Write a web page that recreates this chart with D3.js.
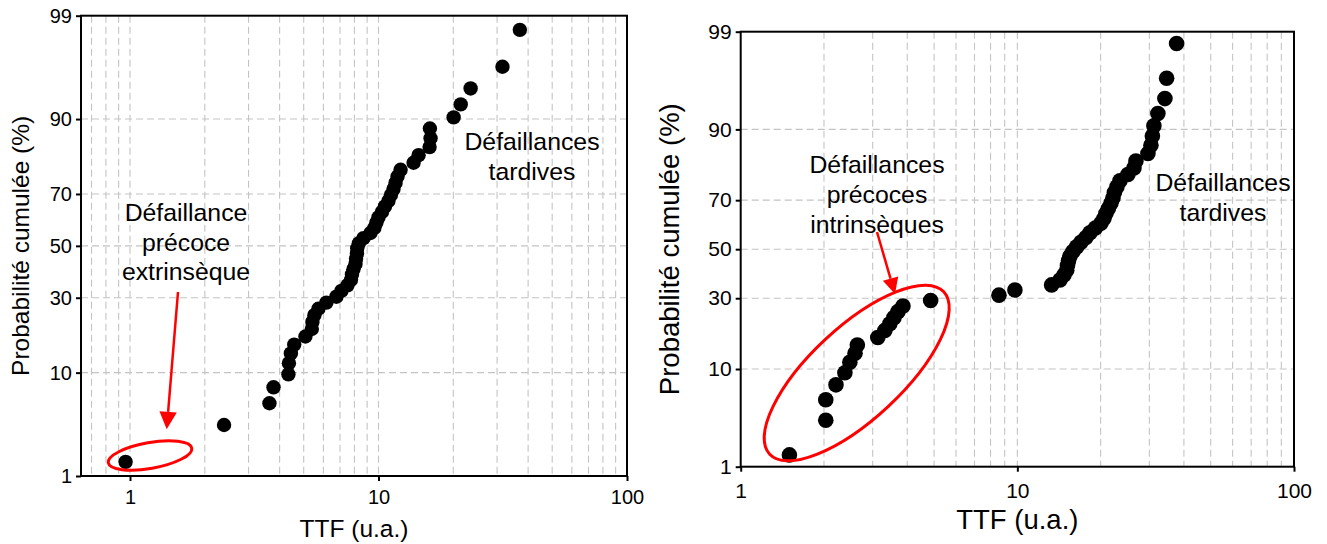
<!DOCTYPE html>
<html><head><meta charset="utf-8">
<script src="https://cdn.jsdelivr.net/npm/d3@7"></script>
<style>body{margin:0;background:#fff}svg{display:block}</style>
</head><body><svg id="c" width="1327" height="544"></svg>
<script>
// ---------- data ----------
const probTicks = [1, 10, 30, 50, 70, 90, 99];
const probTickLabels = ["1", "10", "30", "50", "70", "90", "99"];
const ttfTicks = [1, 10, 100];
const ttfTickLabels = ["1", "10", "100"];
const xTitle = "TTF (u.a.)";
const yTitle = "Probabilité cumulée (%)";

// left panel: TTF (u.a.) and cumulative probability (%)
const leftTTF = [0.96, 2.39, 3.64, 3.78, 4.34, 4.36, 4.44, 4.58, 5.08, 5.39,
  5.42, 5.52, 5.73, 6.17, 6.77, 7.09, 7.50, 7.75, 7.82, 7.93,
  8.08, 8.12, 8.19, 8.21, 8.34, 8.70, 9.28, 9.63, 9.81, 10.0,
  10.33, 10.62, 10.97, 11.22, 11.49, 11.71, 11.93, 12.27, 13.84, 14.50,
  16.05, 16.20, 16.10, 20.06, 21.42, 23.48, 31.54, 37.05];
const leftProb = [1.45, 3.51, 5.58, 7.64, 9.71, 11.78, 13.84, 15.91, 17.98, 20.04,
  22.11, 24.17, 26.24, 28.31, 30.37, 32.44, 34.50, 36.57, 38.64, 40.70,
  42.77, 44.83, 46.90, 48.97, 51.03, 53.10, 55.17, 57.23, 59.30, 61.36,
  63.43, 65.50, 67.56, 69.63, 71.69, 73.76, 75.83, 77.89, 79.96, 82.02,
  84.09, 86.16, 88.22, 90.29, 92.36, 94.42, 96.49, 98.55];

// right panel
const rightTTF = [1.50, 2.03, 2.03, 2.21, 2.38, 2.48, 2.59, 2.64, 3.13, 3.32,
  3.46, 3.58, 3.70, 3.86, 4.86, 8.58, 9.80, 13.30, 14.26, 14.74,
  15.08, 15.18, 15.31, 15.49, 15.88, 16.38, 16.98, 17.70, 18.30, 19.15,
  20.05, 20.56, 20.90, 21.34, 21.79, 22.16, 22.43, 22.91, 23.49, 25.10,
  26.39, 26.83, 29.65, 30.40, 30.77, 31.16, 32.21, 34.15, 34.64, 37.64];
const rightProb = [1.39, 3.37, 5.36, 7.34, 9.33, 11.31, 13.29, 15.28, 17.26, 19.25,
  21.23, 23.21, 25.20, 27.18, 29.17, 31.15, 33.13, 35.12, 37.10, 39.09,
  41.07, 43.06, 45.04, 47.02, 49.01, 50.99, 52.98, 54.96, 56.94, 58.93,
  60.91, 62.90, 64.88, 66.87, 68.85, 70.83, 72.82, 74.80, 76.79, 78.77,
  80.75, 82.74, 84.72, 86.71, 88.69, 90.67, 92.66, 94.64, 96.63, 98.61];

// ---------- normal probability transform ----------
function probit(p) {
  const a = [-3.969683028665376e+01, 2.209460984245205e+02, -2.759285104469687e+02, 1.383577518672690e+02, -3.066479806614716e+01, 2.506628277459239e+00];
  const b = [-5.447609879822406e+01, 1.615858368580409e+02, -1.556989798598866e+02, 6.680131188771972e+01, -1.328068155288572e+01];
  const c = [-7.784894002430293e-03, -3.223964580411365e-01, -2.400758277161838e+00, -2.549732539343734e+00, 4.374664141464968e+00, 2.938163982698783e+00];
  const d = [7.784695709041462e-03, 3.224671290700398e-01, 2.445134137142996e+00, 3.754408661907416e+00];
  const pl = 0.02425, ph = 1 - pl;
  let q, r;
  if (p < pl) {
    q = Math.sqrt(-2 * Math.log(p));
    return (((((c[0]*q+c[1])*q+c[2])*q+c[3])*q+c[4])*q+c[5]) / ((((d[0]*q+d[1])*q+d[2])*q+d[3])*q+1);
  } else if (p <= ph) {
    q = p - 0.5; r = q*q;
    return (((((a[0]*r+a[1])*r+a[2])*r+a[3])*r+a[4])*r+a[5])*q / (((((b[0]*r+b[1])*r+b[2])*r+b[3])*r+b[4])*r+1);
  } else {
    q = Math.sqrt(-2 * Math.log(1 - p));
    return -(((((c[0]*q+c[1])*q+c[2])*q+c[3])*q+c[4])*q+c[5]) / ((((d[0]*q+d[1])*q+d[2])*q+d[3])*q+1);
  }
}
const pz = v => probit(v / 100);

const FONT = "'Liberation Sans', Arial, Helvetica, sans-serif";
const svg = d3.select("#c");

const panels = [
  { ttf: leftTTF, prob: leftProb, x0: 81, x1: 627, y0: 15.7, y1: 476, xDomain: [0.635, 100],
    r: 7.2, tickFont: 20, titleFont: 24.5, xTickPad: 9, xTitleY: 537, yTitleX: 29,
    texts: [
      { x: 186, y: 221, lines: ["Défaillance", "précoce", "extrinsèque"], lh: 29.5, fs: 24.8 },
      { x: 532, y: 150, lines: ["Défaillances", "tardives"], lh: 30, fs: 24.8 }
    ],
    ellipse: { cx: 150, cy: 455.5, rx: 42.4, ry: 12.9, rot: -10 },
    arrow: { x1: 178, y1: 292, x2: 166.7, y2: 429.3, hl: 17.5, hw: 17.4 }
  },
  { ttf: rightTTF, prob: rightProb, x0: 740.7, x1: 1294, y0: 31.7, y1: 466.7, xDomain: [1, 100],
    r: 7.8, tickFont: 21, titleFont: 27.5, xTickPad: 11, xTitleY: 529, yTitleX: 679,
    texts: [
      { x: 877, y: 173, lines: ["Défaillances", "précoces", "intrinsèques"], lh: 30, fs: 24.8 },
      { x: 1223, y: 191, lines: ["Défaillances", "tardives"], lh: 30, fs: 24.8 }
    ],
    ellipse: { cx: 856.7, cy: 373, rx: 119, ry: 46, rot: -43 },
    arrow: { x1: 877, y1: 232, x2: 895, y2: 294, hl: 16, hw: 16 }
  }
];

panels.forEach(P => {
  const x = d3.scaleLog().domain(P.xDomain).range([P.x0, P.x1]);
  const y = d3.scaleLinear().domain([pz(1), pz(99)]).range([P.y1, P.y0]);
  const g = svg.append("g");

  // grid
  const vg = x.ticks().filter(v => v > P.xDomain[0] * 1.0001 && v < P.xDomain[1] * 0.9999);
  g.append("g").selectAll("line").data(vg).join("line")
    .attr("x1", d => x(d)).attr("x2", d => x(d))
    .attr("y1", P.y0).attr("y2", P.y1)
    .attr("stroke", "#c4c4c4").attr("stroke-width", 1.1).attr("stroke-dasharray", "7,4");
  const hg = probTicks.filter(v => v > 1 && v < 99);
  g.append("g").selectAll("line").data(hg).join("line")
    .attr("x1", P.x0).attr("x2", P.x1)
    .attr("y1", d => y(pz(d))).attr("y2", d => y(pz(d)))
    .attr("stroke", "#c4c4c4").attr("stroke-width", 1.1).attr("stroke-dasharray", "7,4");

  // frame
  g.append("rect").attr("x", P.x0).attr("y", P.y0)
    .attr("width", P.x1 - P.x0).attr("height", P.y1 - P.y0)
    .attr("fill", "none").attr("stroke", "#000").attr("stroke-width", 2);

  // axes
  const ya = d3.axisLeft(y).tickValues(probTicks.map(pz))
    .tickFormat((d, i) => probTickLabels[i]).tickSize(5).tickSizeOuter(0).tickPadding(4);
  const yg = g.append("g").attr("transform", `translate(${P.x0},0)`).call(ya);
  const xa = d3.axisBottom(x).tickValues(ttfTicks.filter(v => v >= P.xDomain[0]))
    .tickFormat(d => ttfTickLabels[ttfTicks.indexOf(d)]).tickSize(5).tickSizeOuter(0).tickPadding(P.xTickPad);
  const xg = g.append("g").attr("transform", `translate(0,${P.y1})`).call(xa);
  [yg, xg].forEach(a => {
    a.select(".domain").remove();
    a.selectAll("line").attr("stroke", "#000").attr("stroke-width", 2);
    a.selectAll("text").attr("font-family", FONT).attr("font-size", P.tickFont).attr("fill", "#000");
  });

  // titles
  g.append("text").attr("x", (P.x0 + P.x1) / 2).attr("y", P.xTitleY)
    .attr("text-anchor", "middle").attr("font-family", FONT).attr("font-size", P.titleFont)
    .text(xTitle);
  g.append("text").attr("transform", `translate(${P.yTitleX},${(P.y0 + P.y1) / 2}) rotate(-90)`)
    .attr("text-anchor", "middle").attr("font-family", FONT).attr("font-size", P.titleFont)
    .text(yTitle);

  // points
  g.append("g").selectAll("circle").data(P.ttf).join("circle")
    .attr("cx", d => x(d)).attr("cy", (d, i) => y(pz(P.prob[i])))
    .attr("r", P.r).attr("fill", "#000");

  // annotations
  P.texts.forEach(t => {
    const tx = g.append("text").attr("text-anchor", "middle")
      .attr("font-family", FONT).attr("font-size", t.fs).attr("fill", "#000");
    t.lines.forEach((l, i) => tx.append("tspan").attr("x", t.x).attr("y", t.y + i * t.lh).text(l));
  });
  const e = P.ellipse;
  g.append("ellipse").attr("cx", e.cx).attr("cy", e.cy).attr("rx", e.rx).attr("ry", e.ry)
    .attr("transform", `rotate(${e.rot},${e.cx},${e.cy})`)
    .attr("fill", "none").attr("stroke", "#ff0000").attr("stroke-width", 3);
  const A = P.arrow;
  const ang = Math.atan2(A.y2 - A.y1, A.x2 - A.x1);
  const bx = A.x2 - A.hl * Math.cos(ang), by = A.y2 - A.hl * Math.sin(ang);
  g.append("line").attr("x1", A.x1).attr("y1", A.y1).attr("x2", bx).attr("y2", by)
    .attr("stroke", "#ff0000").attr("stroke-width", 2.5);
  const nx = -Math.sin(ang) * A.hw / 2, ny = Math.cos(ang) * A.hw / 2;
  g.append("path").attr("d", `M${A.x2},${A.y2}L${bx + nx},${by + ny}L${bx - nx},${by - ny}Z`)
    .attr("fill", "#ff0000");
});
</script></body></html>
